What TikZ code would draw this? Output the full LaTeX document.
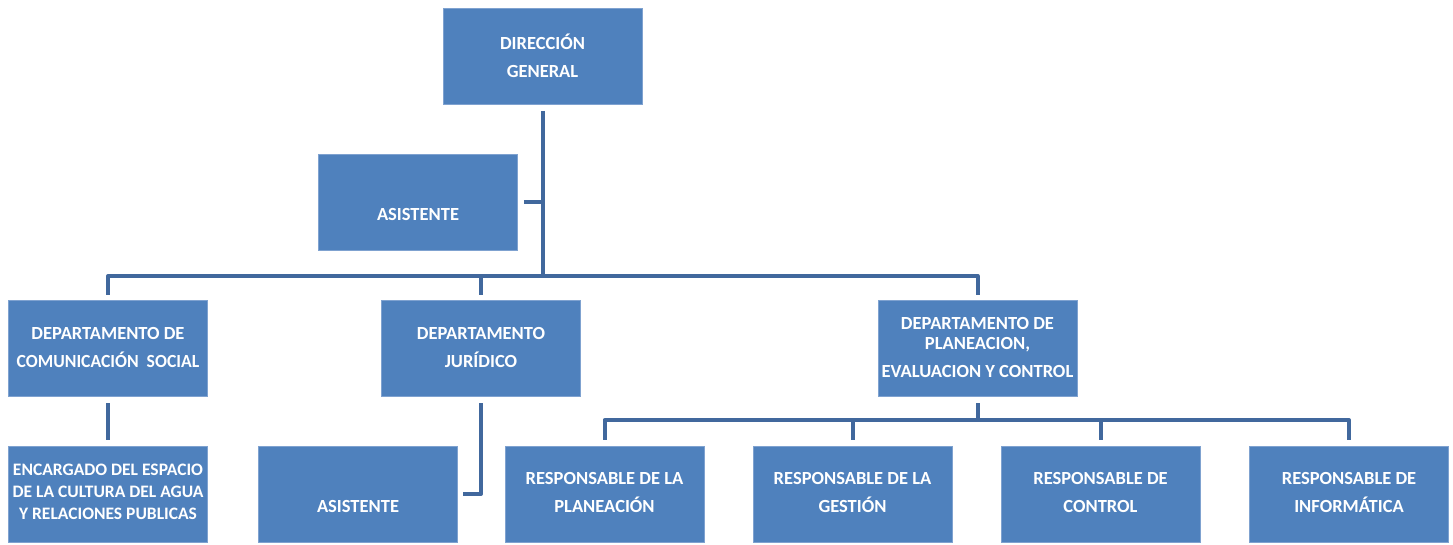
\documentclass[tikz,border=0pt]{standalone}
\usepackage{fontspec}
\setmainfont{Carlito}[BoldFont={Carlito Bold}]
\usetikzlibrary{calc}
\definecolor{boxblue}{HTML}{4F81BD}
\definecolor{boxedge}{HTML}{7FA2D0}
\definecolor{linkblue}{HTML}{41689D}
\tikzset{
  box/.style={rectangle, fill=boxblue, draw=boxedge, line width=0.8pt, inner sep=0pt,
    minimum width=199pt, minimum height=96pt},
  txt/.style={text=white, font=\bfseries\fontsize{18.5}{28}\selectfont, align=center, inner sep=0pt},
  smalltxt/.style={text=white, font=\bfseries\fontsize{17.5}{22}\selectfont, align=center, inner sep=0pt},
  conn/.style={draw=linkblue, line width=4pt, line join=round}
}
\begin{document}
\begin{tikzpicture}[x=1pt,y=-1pt]
\useasboundingbox (0,0) rectangle (1453,544);
% boxes
\node[box] (dg)  at (542.5,56.5) {};
\node[box] (as1) at (418,202) {};
\node[box] (dc)  at (108,348) {};
\node[box] (dj)  at (481,348) {};
\node[box] (dp)  at (977.5,348) {};
\node[box] (enc) at (108,494) {};
\node[box] (as2) at (358,494) {};
\node[box] (r1)  at (604.5,494) {};
\node[box] (r2)  at (852.5,494) {};
\node[box] (r3)  at (1100.5,494) {};
\node[box] (r4)  at (1349,494) {};
% texts
\node[txt] (tdg)  at (542.5,56) {DIRECCIÓN\\GENERAL};
\node[txt] (tas1) at (418,214) {ASISTENTE};
\node[txt] (tdc)  at (108,347) {DEPARTAMENTO DE\\\scalebox{0.955}[1]{COMUNICACIÓN\ \ SOCIAL}};
\node[txt] (tdj)  at (481,347) {DEPARTAMENTO\\JURÍDICO};
\node[txt] (tdp)  at (977.5,347) {DEPARTAMENTO DE\\[-8pt]PLANEACION,\\EVALUACION Y CONTROL};
\node[smalltxt] (tenc) at (108,492) {ENCARGADO DEL ESPACIO\\DE LA CULTURA DEL AGUA\\Y RELACIONES PUBLICAS};
\node[txt] (tas2) at (358,506) {ASISTENTE};
\node[txt] (tr1) at (604.5,492) {RESPONSABLE DE LA\\PLANEACIÓN};
\node[txt] (tr2) at (852.5,492) {RESPONSABLE DE LA\\GESTIÓN};
\node[txt] (tr3) at (1100.5,492) {RESPONSABLE DE\\CONTROL};
\node[txt] (tr4) at (1349,492) {RESPONSABLE DE\\INFORMÁTICA};
% bus coordinates
\coordinate (bus) at (543,276);
\coordinate (bus2) at (978,420);
% connectors
\draw[conn] ([yshift=-6pt]dg.south) -- (dg.south |- bus);
\draw[conn] ([xshift=6pt]as1.east) -- (dg.south |- as1.east);
\draw[conn] ([yshift=5pt]dc.north) -- (dc.north |- bus) -- (dp.north |- bus) -- ([yshift=5pt]dp.north);
\draw[conn] (dj.north |- bus) -- ([yshift=5pt]dj.north);
\draw[conn] ([yshift=-7pt]dc.south) -- ([yshift=6pt]enc.north);
\draw[conn] ([yshift=-7pt]dj.south) |- ([xshift=5pt]as2.east);
\draw[conn] ([yshift=-7pt]dp.south) -- (dp.south |- bus2);
\draw[conn] ([yshift=6pt]r1.north) -- (r1.north |- bus2) -- (r4.north |- bus2) -- ([yshift=6pt]r4.north);
\draw[conn] (r2.north |- bus2) -- ([yshift=6pt]r2.north);
\draw[conn] (r3.north |- bus2) -- ([yshift=6pt]r3.north);
\end{tikzpicture}
\end{document}
